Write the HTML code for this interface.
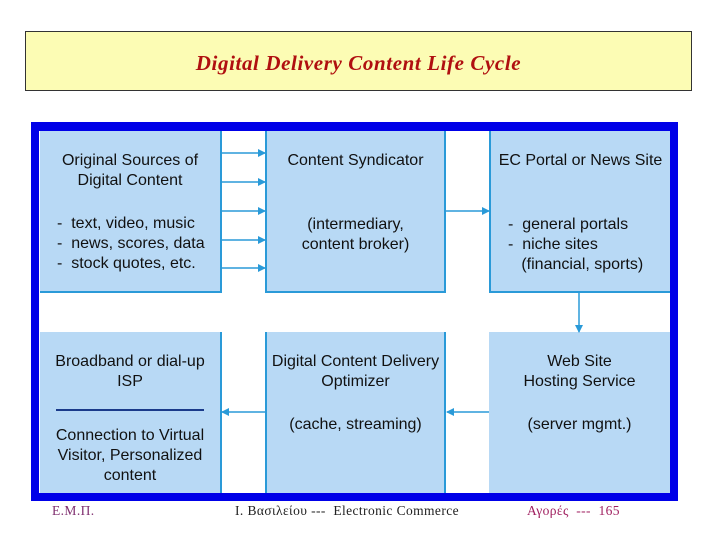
<!DOCTYPE html>
<html><head><style>
body{margin:0;width:720px;height:540px;background:#fff;position:relative;overflow:hidden;font-family:"Liberation Sans",sans-serif}
.t{position:absolute;left:25px;top:31px;width:665px;height:58px;background:#fcfcb4;border:1px solid #333;text-align:center;font:italic bold 21px "Liberation Serif",serif;letter-spacing:0.6px;color:#b01010;line-height:62px}
.frame{position:absolute;left:31px;top:122px;width:647px;height:379px;background:#0000e8}
.inner{position:absolute;left:39px;top:131px;width:631px;height:362px;background:#fff}
.b{position:absolute;background:#b8d9f5;color:#111;font-size:16px;text-align:center;line-height:20px;box-sizing:border-box}
.f{position:absolute;top:503px;font:13.5px "Liberation Serif",serif;letter-spacing:0.4px}
</style></head><body>
<div class="t">Digital Delivery Content Life Cycle</div>
<div class="frame"></div><div class="inner"></div>
<div class="b" style="left:40px;top:131px;width:182px;height:162px;border-right:2px solid #2a9ad8;border-bottom:2px solid #2a9ad8;padding-top:20px">Original Sources of<br>Digital Content<div style="text-align:left;padding-left:17px;margin-top:23px">-&nbsp; text, video, music<br>-&nbsp; news, scores, data<br>-&nbsp; stock quotes, etc.</div></div>
<div class="b" style="left:265px;top:131px;width:181px;height:162px;border-left:2px solid #2a9ad8;border-right:2px solid #2a9ad8;border-bottom:2px solid #2a9ad8;padding-top:20px">Content Syndicator<div style="margin-top:44px">(intermediary,<br>content broker)</div></div>
<div class="b" style="left:489px;top:131px;width:181px;height:162px;border-left:2px solid #2a9ad8;border-bottom:2px solid #2a9ad8;padding-top:20px">EC Portal or News Site<div style="text-align:left;padding-left:17px;margin-top:44px">-&nbsp; general portals<br>-&nbsp; niche sites<br>&nbsp;&nbsp;&nbsp;(financial, sports)</div></div>
<div class="b" style="left:40px;top:332px;width:182px;height:161px;border-right:2px solid #2a9ad8;padding-top:20px">Broadband or dial-up<br>ISP<div style="margin:17px 16px 0;border-top:2px solid #1a3a8a"></div><div style="margin-top:15px">Connection to Virtual<br>Visitor, Personalized<br>content</div></div>
<div class="b" style="left:265px;top:332px;width:181px;height:161px;border-left:2px solid #2a9ad8;border-right:2px solid #2a9ad8;padding-top:20px">Digital Content Delivery<br>Optimizer<div style="margin-top:23px">(cache, streaming)</div></div>
<div class="b" style="left:489px;top:332px;width:181px;height:161px;padding-top:20px">Web Site<br>Hosting Service<div style="margin-top:23px">(server mgmt.)</div></div>
<svg style="position:absolute;left:0;top:0" width="720" height="540">
<defs><marker id="a" markerWidth="8" markerHeight="8" refX="7" refY="4" orient="auto" markerUnits="userSpaceOnUse"><path d="M0,0L8,4L0,8z" fill="#2a9ad8"/></marker></defs>
<g stroke="#2a9ad8" stroke-width="1.5" marker-end="url(#a)">
<line x1="222" y1="153" x2="265" y2="153"/><line x1="222" y1="182" x2="265" y2="182"/><line x1="222" y1="211" x2="265" y2="211"/><line x1="222" y1="240" x2="265" y2="240"/><line x1="222" y1="268" x2="265" y2="268"/>
<line x1="446" y1="211" x2="489" y2="211"/>
<line x1="579" y1="293" x2="579" y2="332"/>
<line x1="489" y1="412" x2="447" y2="412"/>
<line x1="265" y1="412" x2="222" y2="412"/>
</g></svg>
<div class="f" style="left:52px;color:#803070">Ε.Μ.Π.</div>
<div class="f" style="left:235px;color:#222">Ι. Βασιλείου --- &nbsp;Electronic Commerce</div>
<div class="f" style="left:527px;color:#a02060">Αγορές &nbsp;--- &nbsp;165</div>
</body></html>
